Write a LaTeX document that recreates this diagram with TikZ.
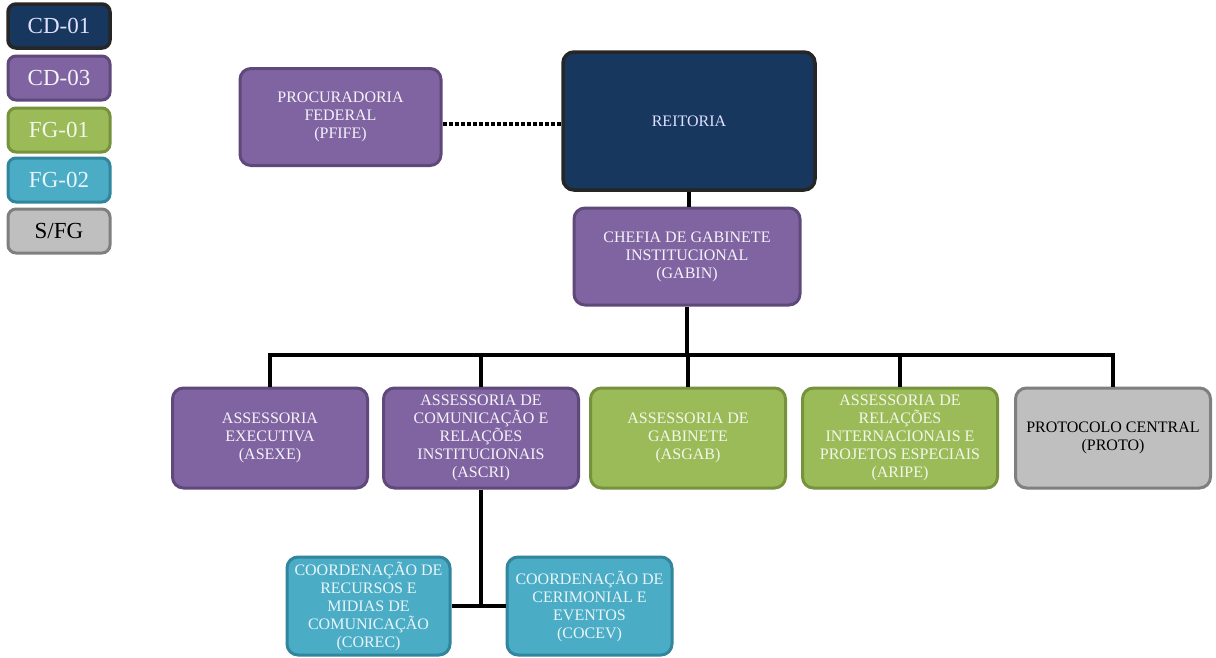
\documentclass[tikz,border=0pt]{standalone}
\usepackage{fontspec}
\setmainfont{Liberation Serif}
\definecolor{navy}{HTML}{17375E}
\definecolor{purp}{HTML}{8064A2}
\definecolor{purpD}{HTML}{5F497A}
\definecolor{grn}{HTML}{9BBB59}
\definecolor{grnD}{HTML}{76923C}
\definecolor{blu}{HTML}{4BACC6}
\definecolor{bluD}{HTML}{31859C}
\definecolor{gry}{HTML}{BFBFBF}
\definecolor{gryD}{HTML}{7F7F7F}
\tikzset{
  box/.style={rounded corners=11pt, line width=3pt, align=center, inner sep=1pt,
    font=\fontsize{16}{18}\selectfont},
  cd1/.style={box, fill=navy, draw=black!85, text=white!88!blue},
  cd3/.style={box, fill=purp, draw=purpD, text=white!92!purp},
  fg1/.style={box, fill=grn, draw=grnD, text=white!88!grn},
  fg2/.style={box, fill=blu, draw=bluD, text=white!88!blu},
  sfg/.style={box, fill=gry, draw=gryD, text=black},
  leg/.style={minimum width=102pt, minimum height=44pt, rounded corners=8pt,
    font=\fontsize{23}{25}\selectfont},
  conn/.style={line width=3.5pt, black},
}
\begin{document}
\begin{tikzpicture}[x=1pt,y=-1pt]
\useasboundingbox[fill=white] (0,0) rectangle (1216,657);
% legend
\node[cd1,leg,line width=3.5pt] (l1) at (59,26) {CD-01};
\node[cd3,leg] (l2) at (59,78) {CD-03};
\node[fg1,leg] (l3) at (59,130) {FG-01};
\node[fg2,leg] (l4) at (59,180) {FG-02};
\node[sfg,leg] (l5) at (59,231) {S/FG};
% top
\node[cd3,minimum width=201pt,minimum height=97pt] (pfife) at (340.5,117) {PROCURADORIA\\FEDERAL\\(PFIFE)};
\node[cd1,line width=3.5pt,minimum width=252pt,minimum height=138pt] (reit) at (689,121) {REITORIA};
\node[cd3,minimum width=226pt,minimum height=97pt] (gabin) at (687,256.5) {CHEFIA DE GABINETE\\INSTITUCIONAL\\(GABIN)};
% row
\node[cd3,minimum width=195pt,minimum height=100pt] (asexe) at (270,438) {ASSESSORIA\\EXECUTIVA\\(ASEXE)};
\node[cd3,minimum width=195pt,minimum height=100pt] (ascri) at (481,438) {ASSESSORIA\ DE\\COMUNICAÇÃO E\\RELAÇÕES\\INSTITUCIONAIS\\(ASCRI)};
\node[fg1,minimum width=195pt,minimum height=100pt] (asgab) at (688,438) {ASSESSORIA\ DE\\GABINETE\\(ASGAB)};
\node[fg1,minimum width=195pt,minimum height=100pt] (aripe) at (900,438) {ASSESSORIA\ DE\\RELAÇÕES\\INTERNACIONAIS E\\PROJETOS ESPECIAIS\\(ARIPE)};
\node[sfg,minimum width=195pt,minimum height=100pt] (proto) at (1113,438) {PROTOCOLO CENTRAL\\(PROTO)};
% bottom
\node[fg2,minimum width=163pt,minimum height=98pt] (corec) at (368.5,606) {COORDENAÇÃO DE\\RECURSOS E\\MIDIAS DE\\COMUNICAÇÃO\\(COREC)};
\node[fg2,minimum width=165pt,minimum height=98pt] (cocev) at (589.5,606) {COORDENAÇÃO DE\\CERIMONIAL E\\EVENTOS\\(COCEV)};
% connectors
\coordinate (bar) at (0,355);
\draw[line width=4pt, dotted, line cap=butt] (pfife.east |- 0,124) -- (reit.west |- 0,124);
\draw[conn] (reit.south) -- (reit.south |- gabin.north);
\draw[conn] (gabin.south) -- (gabin.south |- bar);
\draw[conn, line join=miter] (asexe.north) -- (asexe.north |- bar) -- (proto.north |- bar) -- (proto.north);
\draw[conn] (ascri.north |- bar) -- (ascri.north);
\draw[conn] (asgab.north |- bar) -- (asgab.north);
\draw[conn] (aripe.north |- bar) -- (aripe.north);
\draw[conn] (ascri.south) -- (ascri.south |- corec.east);
\draw[conn] (corec.east) -- (cocev.west);
\end{tikzpicture}
\end{document}
